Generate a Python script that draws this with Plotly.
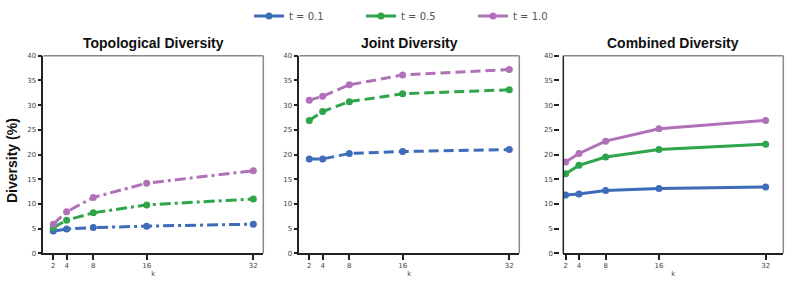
import plotly.graph_objects as go

k_values = [2, 4, 8, 16, 32]
x_ticks = [2, 4, 8, 16, 32]
y_ticks = [0, 5, 10, 15, 20, 25, 30, 35, 40]
panel_titles = ["Topological Diversity", "Joint Diversity", "Combined Diversity"]
series_names = ["t = 0.1", "t = 0.5", "t = 1.0"]

topo_t01 = [4.5, 4.9, 5.2, 5.5, 5.9]
topo_t05 = [5.2, 6.7, 8.2, 9.8, 11.0]
topo_t10 = [5.9, 8.4, 11.3, 14.2, 16.7]

joint_t01 = [19.1, 19.1, 20.2, 20.6, 21.0]
joint_t05 = [26.9, 28.7, 30.7, 32.3, 33.1]
joint_t10 = [31.0, 31.8, 34.1, 36.1, 37.2]

comb_t01 = [11.8, 12.0, 12.7, 13.1, 13.4]
comb_t05 = [16.1, 17.8, 19.5, 21.0, 22.1]
comb_t10 = [18.5, 20.2, 22.7, 25.2, 26.9]

colors = ["#3d6cb9", "#2ea44b", "#b071b9"]
panels = [
    [topo_t01, topo_t05, topo_t10],
    [joint_t01, joint_t05, joint_t10],
    [comb_t01, comb_t05, comb_t10],
]
dashes = ["11px,4px,3px,4px", "10px,5px", "solid"]

W, H = 798, 293
left_px = [43.3, 299.3, 563.3]
width_px = 220
top_px, bot_px = 55.7, 253.3
xranges = [[0.5, 33.5], [0.5, 33.5], [1.65, 34.65]]

fig = go.Figure()
for p in range(3):
    xa = "x" if p == 0 else f"x{p+1}"
    ya = "y" if p == 0 else f"y{p+1}"
    for s in range(3):
        fig.add_trace(go.Scatter(
            x=k_values, y=panels[p][s], mode="lines+markers",
            name=series_names[s], legendgroup=series_names[s], showlegend=(p == 2),
            line=dict(color=colors[s], width=3, dash=dashes[p]),
            marker=dict(color=colors[s], size=7),
            xaxis=xa, yaxis=ya,
        ))

tickfont = dict(family="DejaVu Sans", size=7, color="#444")
axis_dark = "#222"
frame_gray = "#888"
ydom = [(H - bot_px) / H, (H - top_px) / H]
layout = {}
shapes = []
annotations = []
for p in range(3):
    x0 = left_px[p] / W
    x1 = (left_px[p] + width_px) / W
    xkey = "xaxis" if p == 0 else f"xaxis{p+1}"
    ykey = "yaxis" if p == 0 else f"yaxis{p+1}"
    yref = "y" if p == 0 else f"y{p+1}"
    xref = "x" if p == 0 else f"x{p+1}"
    layout[xkey] = dict(
        domain=[x0, x1], range=xranges[p], tickvals=x_ticks, ticktext=[str(v) for v in x_ticks],
        ticks="outside", ticklen=5, tickwidth=1.5, tickcolor=axis_dark, tickfont=tickfont,
        showline=True, linecolor=axis_dark, linewidth=1.5, showgrid=False, zeroline=False,
        anchor=yref, automargin=False,
        title=dict(text="k", font=dict(family="DejaVu Sans", size=7, color="#555"), standoff=2),
    )
    ycfg = dict(
        domain=ydom, range=[0, 40], tickvals=y_ticks, ticks="outside", ticklen=4, tickwidth=1.5,
        tickcolor=axis_dark, tickfont=tickfont, showgrid=False, zeroline=False, automargin=False,
    )
    if p == 2:
        ycfg.update(anchor="free", position=(left_px[p] - 4) / W, showline=False, ticklen=5)
        shapes.append(dict(type="line", xref="paper", yref="paper", x0=x0, x1=x0,
                           y0=ydom[0], y1=ydom[1], line=dict(color=axis_dark, width=1.5)))
    else:
        ycfg.update(anchor=xref, showline=True, linecolor=axis_dark, linewidth=1.5)
    layout[ykey] = ycfg
    shapes.append(dict(type="line", xref="paper", yref="paper", x0=x0, x1=x1,
                       y0=ydom[1], y1=ydom[1], line=dict(color=frame_gray, width=1.5)))
    shapes.append(dict(type="line", xref="paper", yref="paper", x0=x1, x1=x1,
                       y0=ydom[0], y1=ydom[1], line=dict(color=frame_gray, width=1.5)))
    annotations.append(dict(text=f"<b>{panel_titles[p]}</b>", xref="paper", yref="paper",
                            x=(x0 + x1) / 2, y=(H - 43) / H, xanchor="center", yanchor="middle",
                            showarrow=False,
                            font=dict(family="Liberation Sans", size=14, color="#111")))

annotations.append(dict(text="<b>Diversity (%)</b>", xref="paper", yref="paper",
                        x=12 / W, y=(H - 161) / H, xanchor="center", yanchor="middle",
                        textangle=-90, showarrow=False,
                        font=dict(family="Liberation Sans", size=14, color="#111")))

fig.update_layout(
    width=W, height=H, margin=dict(l=0, r=0, t=0, b=0, autoexpand=False),
    paper_bgcolor="white", plot_bgcolor="white",
    showlegend=True,
    legend=dict(orientation="h", x=249 / W, y=(H - 16) / H, xanchor="left", yanchor="middle",
                font=dict(family="DejaVu Sans", size=10, color="#555"),
                entrywidth=67, entrywidthmode="pixels", itemwidth=30),
    shapes=shapes, annotations=annotations,
    **layout,
)

fig.write_html("out.html", config={"displayModeBar": False},
               post_script="document.body.style.margin='0';")
